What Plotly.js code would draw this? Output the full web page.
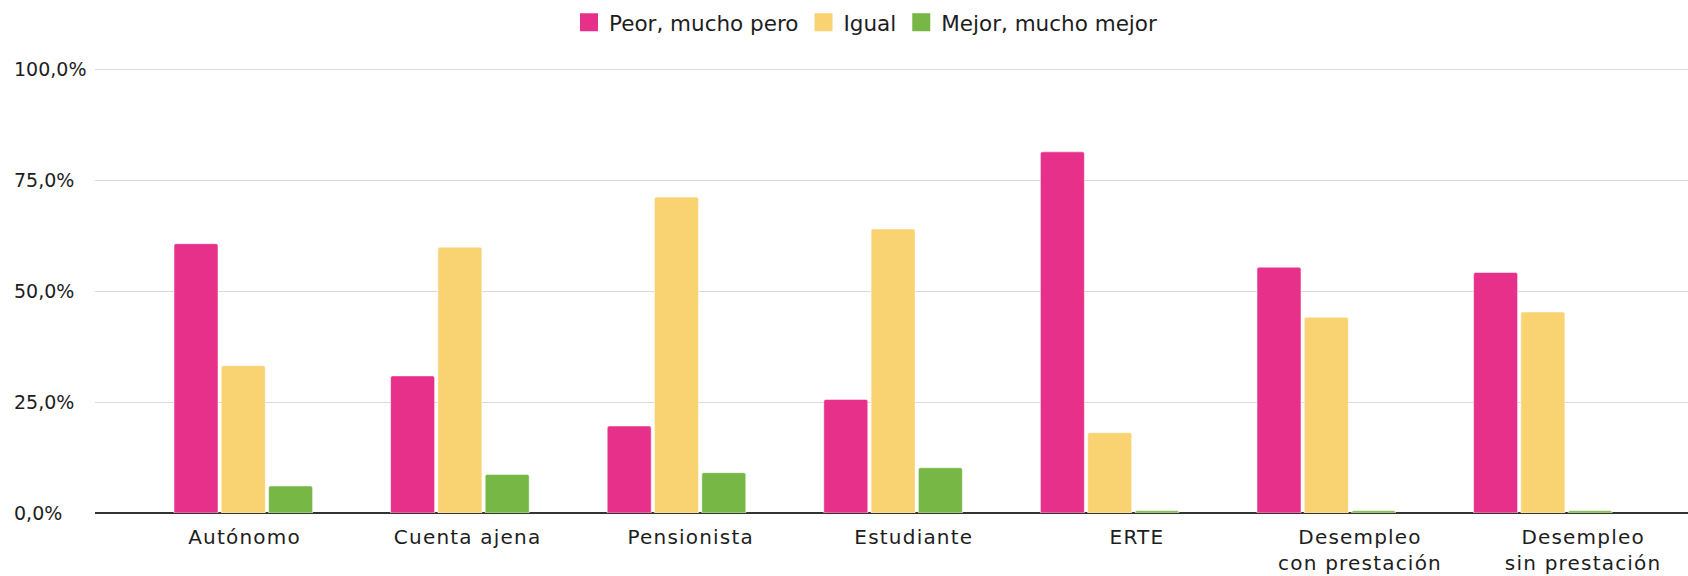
<!DOCTYPE html>
<html>
<head>
<meta charset="utf-8">
<script src="https://cdn.plot.ly/plotly-3.0.1.min.js"></script>
<style>
html,body{margin:0;padding:0;background:#fff;}
#chart{width:1688px;height:576px;}
#chart .x2tick text{letter-spacing:1.2px;}
</style>
</head>
<body>
<div id="chart"></div>
<script>
const categories = ['Autónomo', 'Cuenta ajena', 'Pensionista', 'Estudiante', 'ERTE', 'Desempleo con prestación', 'Desempleo sin prestación'];
const categoryLabels = ['Autónomo', 'Cuenta ajena', 'Pensionista', 'Estudiante', 'ERTE', 'Desempleo<br>con prestación', 'Desempleo<br>sin prestación'];
const seriesNames = ['Peor, mucho pero', 'Igual', 'Mejor, mucho mejor'];
const peor = [60.7, 30.9, 19.6, 25.6, 81.4, 55.4, 54.2];
const igual = [33.2, 59.9, 71.2, 64.0, 18.1, 44.1, 45.3];
const mejor = [6.1, 8.7, 9.1, 10.2, 0.5, 0.5, 0.5];
const yTicks = [0, 25, 50, 75, 100];

const colors = ['#E73089', '#F9D272', '#77B745'];
const FONT = "'DejaVu Sans', sans-serif";
const TXT = '#1d1d1d';

const values = [peor, igual, mejor];
const traces = values.map((v, k) => ({
  type: 'bar',
  name: seriesNames[k],
  legendgroup: 'g' + k,
  showlegend: false,
  x: categories,
  y: v,
  marker: {color: colors[k], cornerradius: 2, line: {color: 'rgba(255,255,255,0.5)', width: 1}},
  hoverinfo: 'x+y+name'
}));

// legend entries (square swatches) for the three series
seriesNames.forEach((n, k) => traces.push({
  type: 'scatter',
  mode: 'markers',
  name: n,
  legendgroup: 'g' + k,
  showlegend: true,
  x: [null],
  y: [null],
  marker: {symbol: 'square', size: 16, color: colors[k], line: {color: colors[k], width: 2}},
  hoverinfo: 'skip'
}));

// carrier for the category tick labels axis
traces.push({
  type: 'scatter',
  mode: 'markers',
  x: categories.map((c, i) => i),
  y: categories.map(() => 0),
  xaxis: 'x2',
  marker: {opacity: 0},
  hoverinfo: 'skip',
  showlegend: false
});

const fmt = v => v.toFixed(1).replace('.', ',') + '%';
const yAnn = yTicks.map(v => ({
  xref: 'paper', yref: 'y', x: 0, y: v, xanchor: 'left', yanchor: 'middle',
  xshift: -83, text: fmt(v), showarrow: false,
  font: {family: FONT, size: 19, color: TXT}
}));

const layout = {
  width: 1688, height: 576,
  margin: {l: 95, r: 0, t: 68, b: 63},
  paper_bgcolor: '#fff', plot_bgcolor: '#fff',
  font: {family: FONT, color: TXT},
  barmode: 'group',
  bargap: 0.345,
  bargroupgap: 0.07,
  showlegend: true,
  legend: {
    orientation: 'h', xref: 'container', yref: 'container',
    x: 569 / 1688, xanchor: 'left', y: 0.997, yanchor: 'top',
    font: {family: FONT, size: 21.5, color: TXT},
    itemsizing: 'trace',
    traceorder: 'normal'
  },
  xaxis: {
    type: 'category',
    range: [-0.6847, 6.670],
    showticklabels: false, showgrid: false, zeroline: false, showline: false,
    ticks: ''
  },
  xaxis2: {
    overlaying: 'x', anchor: 'y', side: 'bottom', type: 'linear',
    range: [-0.6701, 6.470],
    tickvals: categories.map((c, i) => i), ticktext: categoryLabels,
    tickfont: {family: FONT, size: 20, color: TXT},
    ticklabelstandoff: 10,
    showgrid: false, zeroline: false, showline: false, ticks: ''
  },
  yaxis: {
    range: [0, 100.3],
    tickvals: yTicks,
    showticklabels: false,
    showgrid: true, gridcolor: '#d9d9d9', gridwidth: 1,
    zeroline: true, zerolinecolor: '#333333', zerolinewidth: 1.5,
    ticks: ''
  },
  annotations: yAnn
};

Plotly.newPlot('chart', traces, layout, {displayModeBar: false, responsive: false});
</script>
</body>
</html>
